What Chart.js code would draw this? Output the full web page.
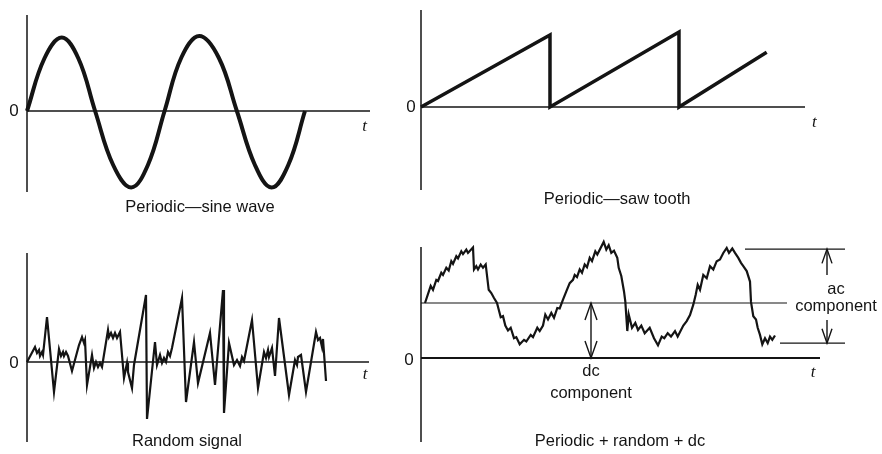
<!DOCTYPE html>
<html>
<head>
<meta charset="utf-8">
<script src="https://cdn.jsdelivr.net/npm/chart.js@4"></script>
<style>
  html, body { margin: 0; padding: 0; background: #fff; }
  #wrap { position: relative; width: 882px; height: 454px; overflow: hidden; }
  .panel { position: absolute; }
</style>
</head>
<body>
<div id="wrap">
  <div class="panel" style="left:0;top:0"><canvas id="sine" width="400" height="227"></canvas></div>
  <div class="panel" style="left:400px;top:0"><canvas id="saw" width="482" height="227"></canvas></div>
  <div class="panel" style="left:0;top:227px"><canvas id="rand" width="400" height="227"></canvas></div>
  <div class="panel" style="left:400px;top:227px"><canvas id="mix" width="482" height="227"></canvas></div>
</div>
<script>
// sine wave, t in periods
const sineT = [0, 0.125, 0.25, 0.37, 0.49, 0.62, 0.75, 0.87, 0.99, 1.11, 1.24, 1.38, 1.51, 1.64, 1.76, 1.88, 2.0];
const sineV = [0, 0.70, 0.98, 0.70, 0, -0.72, -1.02, -0.72, 0, 0.71, 1.0, 0.71, 0, -0.72, -1.02, -0.72, 0];

// saw tooth
const sawT = [0, 1.0, 1.0, 2.0, 2.0, 2.68];
const sawV = [0, 1.0, 0, 1.04, 0, 0.76];

// random signal
const randT = [0, 0.8, 1.0, 1.2, 1.3, 1.5, 1.6, 2.0, 2.7, 3.2,
  3.4, 3.6, 3.7, 3.9, 4.1, 4.5, 5.2, 5.5, 5.7, 5.8,
  6.0, 6.5, 6.7, 6.9, 7.1, 7.3, 7.5, 8.1, 8.2, 8.4,
  8.6, 8.8, 9.0, 9.3, 9.7, 10.0, 10.1, 10.5, 10.7, 11.9,
  12.0, 12.8, 13.0, 13.3, 13.5, 13.7, 13.9, 14.1, 14.3, 14.5,
  15.5, 15.9, 16.7, 17.1, 18.3, 18.8, 19.6, 19.7, 20.2, 20.7,
  21.0, 21.3, 21.5, 21.7, 22.5, 23.1, 23.7, 23.9, 24.1, 24.2,
  24.5, 24.8, 25.2, 26.2, 26.8, 27.0, 27.1, 27.4, 27.9, 28.9,
  29.1, 29.3, 29.5, 29.6, 29.9];
const randV = [0, 1.5, 0.9, 1.2, 0.6, 1.0, 0.7, 4.5, -3.0, 1.3,
  0.6, 1.0, 0.6, 1.0, 0.6, -0.9, 1.7, 2.5, 1.9, 2.2,
  -2.3, 0.7, -0.6, 0, -0.5, -0.1, -0.5, 3.2, 2.5, 2.9,
  2.4, 2.9, 2.4, 3.0, -1.6, -0.1, -1.0, -2.6, -0.3, 6.7,
  -5.7, 2.0, -0.3, 0.7, -0.1, 0.4, 0, 1.0, 0.6, 1.4,
  6.4, -4.0, 2.0, -2.1, 2.9, -2.3, 7.2, -5.1, 1.9, -0.3,
  0.2, -0.4, 0.5, 0.1, 4.2, -2.6, 1.0, 0.4, 1.2, 0.5,
  1.4, -1.4, 4.4, -3.3, 0.2, -0.3, 0.5, 0.7, -3.0, 3.0,
  2.2, 2.4, 1.5, 2.3, -1.9];

// periodic + random + dc
const mixT = [0.4, 0.97, 1.2, 1.53, 1.7, 2.03, 2.2, 2.53, 2.77, 3.03,
  3.2, 3.53, 3.7, 4.03, 4.2, 4.53, 4.7, 5.2, 5.3, 5.53,
  5.7, 5.97, 6.2, 6.47, 6.77, 7.03, 7.3, 7.6, 7.77, 7.97,
  8.2, 8.43, 8.7, 8.97, 9.3, 9.53, 9.87, 10.3, 10.53, 10.97,
  11.2, 11.63, 11.87, 12.2, 12.43, 12.7, 13.03, 13.3, 13.63, 13.87,
  14.2, 14.53, 14.87, 15.2, 15.37, 15.6, 15.87, 16.1, 16.37, 16.6,
  16.87, 17.1, 17.43, 17.63, 18.27, 18.53, 18.77, 19.03, 19.3, 19.63,
  19.77, 20.03, 20.3, 20.43, 20.63, 20.77, 21.1, 21.43, 21.7, 22.03,
  22.37, 22.87, 23.3, 23.7, 24.07, 24.33, 24.67, 25.0, 25.4, 25.67,
  26.23, 26.57, 26.9, 27.23, 27.47, 27.67, 27.9, 28.23, 28.57, 28.9,
  29.23, 29.57, 29.9, 30.23, 30.57, 30.8, 31.13, 31.4, 31.73, 32.0,
  32.23, 32.57, 32.9, 33.0, 33.23, 33.5, 33.67, 33.9, 34.13, 34.4,
  34.67, 34.9, 35.13, 35.4];
const mixV = [1.00, 1.31, 1.24, 1.42, 1.40, 1.55, 1.51, 1.64, 1.59, 1.76,
  1.71, 1.85, 1.81, 1.94, 1.89, 1.97, 1.91, 2.01, 1.61, 1.67,
  1.61, 1.70, 1.64, 1.70, 1.24, 1.18, 1.09, 1.00, 0.88, 0.74,
  0.76, 0.59, 0.50, 0.55, 0.36, 0.38, 0.25, 0.33, 0.30, 0.42,
  0.38, 0.55, 0.49, 0.59, 0.79, 0.70, 0.82, 0.73, 0.91, 0.90,
  1.06, 1.21, 1.36, 1.42, 1.51, 1.47, 1.61, 1.55, 1.70, 1.65,
  1.82, 1.76, 1.94, 1.88, 2.11, 1.97, 2.05, 1.91, 1.95, 1.82,
  1.64, 1.49, 1.21, 1.03, 0.49, 0.79, 0.55, 0.64, 0.51, 0.59,
  0.45, 0.55, 0.36, 0.23, 0.39, 0.36, 0.45, 0.39, 0.49, 0.39,
  0.59, 0.67, 0.78, 0.97, 1.15, 1.33, 1.24, 1.51, 1.45, 1.67,
  1.61, 1.76, 1.79, 1.91, 2.00, 1.91, 1.99, 1.91, 1.82, 1.73,
  1.67, 1.58, 1.39, 1.02, 0.76, 0.70, 0.55, 0.42, 0.25, 0.36,
  0.27, 0.39, 0.33, 0.41];

const dcLevel = 1.0;
const acTop = 1.98;
const acBottom = 0.27;

const INK = "#141414";
const SANS = "'Liberation Sans', Arial, sans-serif";
const SERIF = "'Liberation Serif', serif";

const pts = (xs, ys) => xs.map((x, i) => ({ x, y: ys[i] }));

function seg(x0, y0, x1, y1, width) {
  return {
    data: [{ x: x0, y: y0 }, { x: x1, y: y1 }],
    borderColor: INK, borderWidth: width || 1.4,
    pointRadius: 0, showLine: true, clip: false
  };
}

function trace(data, width, tension) {
  return {
    data, borderColor: INK, borderWidth: width,
    pointRadius: 0, showLine: true, clip: false,
    tension: tension || 0, borderJoinStyle: "miter", borderCapStyle: "butt"
  };
}

// open arrowhead, dir = 1 points up, -1 points down
function head(x, tip, dir, hw, len) {
  return {
    data: [{ x: x - hw, y: tip - dir * len }, { x, y: tip }, { x: x + hw, y: tip - dir * len }],
    borderColor: INK, borderWidth: 1.4, pointRadius: 0, showLine: true, clip: false
  };
}

const textLabels = {
  id: "textLabels",
  afterDraw(chart, args, opts) {
    const { ctx, scales } = chart;
    ctx.save();
    ctx.fillStyle = INK;
    ctx.textAlign = "center";
    ctx.textBaseline = "middle";
    for (const l of opts.items || []) {
      ctx.font = l.font;
      ctx.fillText(l.text, scales.x.getPixelForValue(l.x), scales.y.getPixelForValue(l.y));
    }
    ctx.restore();
  }
};

function panel(id, datasets, range, padding, items) {
  return new Chart(document.getElementById(id), {
    type: "scatter",
    data: { datasets },
    options: {
      responsive: false,
      animation: false,
      events: [],
      layout: { padding },
      scales: {
        x: { type: "linear", display: false, min: range[0], max: range[1] },
        y: { type: "linear", display: false, min: range[2], max: range[3] }
      },
      plugins: {
        legend: { display: false },
        tooltip: { enabled: false },
        textLabels: { items }
      }
    },
    plugins: [textLabels]
  });
}

const f0 = "17px " + SANS;
const fT = "italic 17px " + SERIF;
const fTitle = "16.5px " + SANS;

// Periodic - sine wave
panel("sine", [
  seg(0, -1.08, 0, 1.28, 1.5),
  seg(0, 0, 2.468, 0, 1.3),
  trace(pts(sineT, sineV), 4, 0.4)
], [0, 2.468, -1.08, 1.28], { left: 27, right: 30, top: 15, bottom: 35 }, [
  { text: "0", x: -0.094, y: 0, font: f0 },
  { text: "t", x: 2.43, y: -0.21, font: fT },
  { text: "Periodic\u2014sine wave", x: 1.245, y: -1.29, font: fTitle }
]);

// Periodic - saw tooth
panel("saw", [
  seg(0, -1.153, 0, 1.347, 1.5),
  seg(0, 0, 2.977, 0, 1.3),
  trace(pts(sawT, sawV), 3.5)
], [0, 2.977, -1.153, 1.347], { left: 21, right: 77, top: 10, bottom: 37 }, [
  { text: "0", x: -0.078, y: 0, font: f0 },
  { text: "t", x: 3.05, y: -0.21, font: fT },
  { text: "Periodic\u2014saw tooth", x: 1.52, y: -1.29, font: fTitle }
]);

// Random signal
panel("rand", [
  seg(0, -8.0, 0, 10.9, 1.5),
  seg(0, 0, 34.2, 0, 1.3),
  trace(pts(randT, randV), 2.2)
], [0, 34.2, -8.0, 10.9], { left: 27, right: 31, top: 26, bottom: 12 }, [
  { text: "0", x: -1.3, y: -0.1, font: f0 },
  { text: "t", x: 33.8, y: -1.3, font: fT },
  { text: "Random signal", x: 16.0, y: -7.9, font: fTitle }
]);

// Periodic + random + dc
panel("mix", [
  seg(0, -1.527, 0, 2.018, 1.5),
  seg(0, 0, 39.9, 0, 2),
  seg(0, dcLevel, 36.6, dcLevel, 1.2),
  seg(32.4, acTop, 42.4, acTop, 1.2),
  seg(35.9, acBottom, 42.4, acBottom, 1.2),
  seg(17.0, 0, 17.0, dcLevel, 1.4),
  head(17.0, dcLevel, 1, 0.6, 0.31),
  head(17.0, 0, -1, 0.6, 0.31),
  seg(40.6, acTop, 40.6, 1.51, 1.4),
  head(40.6, acTop, 1, 0.5, 0.26),
  seg(40.6, acBottom, 40.6, 0.69, 1.4),
  head(40.6, acBottom, -1, 0.5, 0.26),
  trace(pts(mixT, mixV), 2.2)
], [0, 42.4, -1.527, 2.018], { left: 21, right: 37, top: 20, bottom: 12 }, [
  { text: "0", x: -1.2, y: -0.04, font: f0 },
  { text: "t", x: 39.2, y: -0.27, font: fT },
  { text: "dc", x: 17.0, y: -0.25, font: fTitle },
  { text: "component", x: 17.0, y: -0.64, font: fTitle },
  { text: "ac", x: 41.5, y: 1.24, font: fTitle },
  { text: "component", x: 41.5, y: 0.93, font: fTitle },
  { text: "Periodic + random + dc", x: 19.9, y: -1.51, font: fTitle }
]);
</script>
</body>
</html>
